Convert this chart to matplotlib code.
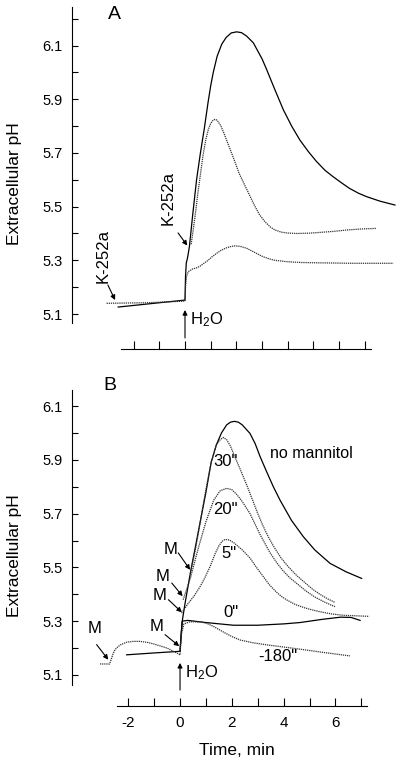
import numpy as np
import matplotlib.pyplot as plt

plt.rcParams['font.family'] = ['Liberation Sans', 'DejaVu Sans']
plt.rcParams['mathtext.default'] = 'regular'

# ---- panel A: time (min) and extracellular pH ----
a_ctrl_t = [-2.6, -1.3, 0.0, 0.02, 0.05, 0.1, 0.17, 0.3, 0.45, 0.6, 0.75, 0.9, 1.0, 1.1, 1.25,
            1.43, 1.6, 1.8, 2.01, 2.2, 2.4, 2.66, 3.0, 3.18, 3.5, 3.83, 4.15, 4.47, 4.8, 5.1,
            5.45, 5.77, 6.1, 6.4, 6.75, 7.07, 7.6, 8.17]
a_ctrl_ph = [5.126, 5.139, 5.152, 5.24, 5.29, 5.31, 5.35, 5.47, 5.6, 5.70, 5.79, 5.89, 5.95, 6.0, 6.06,
             6.105, 6.13, 6.147, 6.151, 6.148, 6.135, 6.11, 6.05, 6.01, 5.935, 5.86, 5.80, 5.748, 5.705, 5.67,
             5.635, 5.611, 5.588, 5.568, 5.55, 5.537, 5.52, 5.506]

a_late_t = [0.24, 0.3, 0.4, 0.5, 0.6, 0.7, 0.8, 0.9, 1.0, 1.1, 1.17, 1.25, 1.4, 1.55, 1.75,
            1.95, 2.1, 2.3, 2.5, 2.7, 2.9, 3.1, 3.31, 3.5, 3.75, 3.96, 4.3, 4.8, 5.25, 5.8,
            6.3, 6.9, 7.46]
a_late_ph = [5.36, 5.40, 5.47, 5.55, 5.62, 5.69, 5.745, 5.785, 5.81, 5.823, 5.825, 5.822, 5.80, 5.765, 5.715,
             5.665, 5.625, 5.585, 5.545, 5.505, 5.47, 5.445, 5.425, 5.413, 5.405, 5.402, 5.400, 5.401, 5.404, 5.408,
             5.413, 5.417, 5.419]

a_pre_t = [-3.05, -1.5, 0.0, 0.02, 0.06, 0.13, 0.3, 0.45, 0.58, 0.75, 0.9, 1.05, 1.23, 1.4, 1.6,
           1.8, 1.95, 2.15, 2.4, 2.7, 2.9, 3.05, 3.3, 3.5, 3.96, 4.5, 5.0, 6.5, 8.1]
a_pre_ph = [5.140, 5.142, 5.148, 5.20, 5.24, 5.258, 5.268, 5.272, 5.278, 5.29, 5.30, 5.313, 5.326, 5.337, 5.346,
            5.352, 5.354, 5.352, 5.345, 5.33, 5.32, 5.313, 5.305, 5.300, 5.295, 5.292, 5.291, 5.289, 5.289]

# ---- panel B ----
b_none_t = [-2.06, -1.0, 0.0, 0.05, 0.1, 0.2, 0.4, 0.6, 0.8, 1.0, 1.2, 1.4, 1.6, 1.8, 1.95,
            2.1, 2.25, 2.4, 2.7, 2.9, 3.09, 3.3, 3.6, 3.86, 4.3, 4.76, 5.2, 5.79, 6.4, 7.01]
b_none_ph = [5.175, 5.182, 5.188, 5.26, 5.31, 5.37, 5.48, 5.58, 5.68, 5.78, 5.89, 5.955, 6.0, 6.03, 6.04,
             6.043, 6.04, 6.03, 5.998, 5.96, 5.912, 5.865, 5.80, 5.75, 5.675, 5.614, 5.565, 5.515, 5.484, 5.459]

b_30_t = [0.4, 0.6, 0.8, 1.0, 1.2, 1.4, 1.55, 1.67, 1.8, 1.95, 2.12, 2.3, 2.45, 2.6, 2.8,
          3.0, 3.2, 3.4, 3.6, 3.9, 4.2, 4.5, 4.8, 5.1, 5.4, 5.7, 5.98]
b_30_ph = [5.48, 5.57, 5.68, 5.79, 5.89, 5.955, 5.975, 5.983, 5.975, 5.95, 5.91, 5.87, 5.835, 5.80, 5.75,
           5.70, 5.655, 5.615, 5.58, 5.535, 5.50, 5.47, 5.445, 5.42, 5.40, 5.383, 5.37]

b_20_t = [0.12, 0.4, 0.7, 1.0, 1.3, 1.55, 1.8, 2.0, 2.2, 2.4, 2.7, 2.9, 3.1, 3.3, 3.47,
          3.75, 4.0, 4.25, 4.51, 4.85, 5.2, 5.6, 5.98]
b_20_ph = [5.38, 5.46, 5.57, 5.67, 5.75, 5.785, 5.794, 5.789, 5.77, 5.745, 5.70, 5.66, 5.62, 5.585, 5.555,
           5.515, 5.485, 5.46, 5.44, 5.413, 5.39, 5.37, 5.354]

b_5_t = [0.06, 0.2, 0.32, 0.55, 0.77, 0.95, 1.16, 1.35, 1.5, 1.62, 1.74, 1.9, 2.1, 2.4, 2.7,
         2.95, 3.22, 3.45, 3.7, 3.9, 4.12, 4.45, 4.8, 5.1, 5.41, 5.85, 6.3, 6.8, 7.3]
b_5_ph = [5.33, 5.35, 5.367, 5.395, 5.428, 5.46, 5.503, 5.55, 5.58, 5.597, 5.604, 5.602, 5.59, 5.565, 5.535,
          5.50, 5.465, 5.435, 5.41, 5.393, 5.379, 5.362, 5.35, 5.342, 5.335, 5.327, 5.322, 5.32, 5.318]

b_0_t = [0.0, 0.08, 0.3, 1.0, 2.06, 3.0, 4.0, 4.63, 5.5, 6.2, 6.6, 6.95]
b_0_ph = [5.188, 5.30, 5.303, 5.295, 5.285, 5.285, 5.29, 5.295, 5.307, 5.315, 5.314, 5.303]

b_m180_t = [-3.09, -2.72, -2.65, -2.58, -2.51, -2.4, -2.3, -2.06, -1.8, -1.54, -1.25, -1.0, -0.5,
            -0.05, 0.0, 0.05, 0.15, 0.39, 0.8, 1.03, 1.3, 1.54, 1.8, 2.0, 2.32, 2.8, 3.35, 4.0,
            4.63, 5.6, 6.56]
b_m180_ph = [5.141, 5.141, 5.16, 5.18, 5.194, 5.205, 5.212, 5.222, 5.225, 5.225, 5.221, 5.215, 5.200,
             5.178, 5.174, 5.25, 5.29, 5.298, 5.297, 5.292, 5.28, 5.267, 5.253, 5.243, 5.23, 5.22, 5.212, 5.204,
             5.196, 5.183, 5.171]

y_major = [5.1, 5.3, 5.5, 5.7, 5.9, 6.1]
x_ticks = [-2, -1, 0, 1, 2, 3, 4, 5, 6, 7]

solid = dict(color='k', lw=0.9)
dotted = dict(color='0.2', lw=0.9, linestyle=(0, (1.0, 0.7)))
arrow = dict(arrowstyle='-|>', color='k', lw=0.8, mutation_scale=7, shrinkA=0, shrinkB=0)

fig = plt.figure(figsize=(4.0, 7.66), dpi=100)
axA = fig.add_axes([0.18, 0.5783, 0.82, 0.4125])
axB = fig.add_axes([0.18, 0.10574, 0.82, 0.38512])


def style_axis(ax, minor_top, drop, xbounds):
    for s in ['top', 'right']:
        ax.spines[s].set_visible(False)
    ax.spines['bottom'].set_position(('outward', drop))
    ax.spines['bottom'].set_bounds(*xbounds)
    for s in ['left', 'bottom']:
        ax.spines[s].set_linewidth(0.8)
    ax.set_yticks(y_major)
    ax.set_yticklabels(['%.1f' % v for v in y_major])
    ax.set_yticks(np.arange(5.2, minor_top + 0.01, 0.2), minor=True)
    ax.tick_params(axis='y', which='both', direction='in', length=4.5, width=0.8,
                   pad=7, labelsize=10.5)
    ax.set_xticks(x_ticks)
    ax.tick_params(axis='x', direction='in', length=6, width=0.8, pad=7, labelsize=11)
    ax.set_ylabel('Extracellular pH', fontsize=12.5)
    ax.yaxis.set_label_coords(-0.198, 0.44)
    ax.yaxis.label.set_va('top')


# panel A
axA.set_xlim(-4.397, 8.366)
axA.set_ylim(5.0665, 6.2434)
style_axis(axA, 6.2, 18.7, (-2.49, 7.24))
axA.set_xticklabels([])
axA.plot(a_ctrl_t, a_ctrl_ph, **solid)
axA.plot(a_late_t, a_late_ph, **dotted)
axA.plot(a_pre_t, a_pre_ph, **dotted)
axA.text(-2.76, 6.214, 'A', fontsize=14, ha='center', va='center')
axA.text(-3.19, 5.316, 'K-252a', fontsize=12, rotation=90, ha='center', va='center')
axA.annotate('', xy=(-2.72, 5.152), xytext=(-3.0, 5.208), arrowprops=arrow)
axA.text(-0.66, 5.532, 'K-252a', fontsize=12, rotation=90, ha='center', va='center')
axA.annotate('', xy=(0.09, 5.355), xytext=(-0.27, 5.402), arrowprops=arrow)
axA.annotate('', xy=(0, 5.115), xytext=(0, 5.011), arrowprops=arrow, annotation_clip=False)
axA.text(0.19, 5.078, 'H$_2$O', fontsize=12, ha='left', va='center')

# panel B
axB.set_xlim(-4.17, 8.49)
axB.set_ylim(5.0628, 6.1595)
style_axis(axB, 6.0, 15.1, (-2.45, 7.23))
axB.set_xticklabels([str(v) if v % 2 == 0 else '' for v in x_ticks])
axB.set_xlabel('Time, min', fontsize=12.5)
axB.xaxis.set_label_coords(0.502, -0.197)
axB.xaxis.label.set_va('top')

axB.plot(b_none_t, b_none_ph, **solid)
axB.plot(b_30_t, b_30_ph, **dotted)
axB.plot(b_20_t, b_20_ph, **dotted)
axB.plot(b_5_t, b_5_ph, **dotted)
axB.plot(b_0_t, b_0_ph, **solid)
axB.plot(b_m180_t, b_m180_ph, **dotted)

axB.text(-2.70, 6.178, 'B', fontsize=14, ha='center', va='center')
axB.text(5.08, 5.922, 'no mannitol', fontsize=11.5, ha='center', va='center')
axB.text(1.76, 5.892, '30"', fontsize=12, ha='center', va='center')
axB.text(1.76, 5.717, '20"', fontsize=12, ha='center', va='center')
axB.text(1.88, 5.55, '5"', fontsize=12, ha='center', va='center')
axB.text(1.95, 5.334, '0"', fontsize=12, ha='center', va='center')
axB.text(3.76, 5.167, '-180"', fontsize=12, ha='center', va='center')

m_text = [(-0.35, 5.567), (-0.68, 5.465), (-0.80, 5.394), (-0.92, 5.28), (-3.28, 5.271)]
m_from = [(-0.07, 5.554), (-0.32, 5.442), (-0.45, 5.38), (-0.58, 5.25), (-3.22, 5.213)]
m_tip = [(0.39, 5.491), (0.10, 5.393), (0.07, 5.333), (-0.03, 5.207), (-2.77, 5.157)]
for txt, start, tip in zip(m_text, m_from, m_tip):
    axB.text(txt[0], txt[1], 'M', fontsize=12, ha='center', va='center')
    axB.annotate('', xy=tip, xytext=start, arrowprops=arrow)

axB.annotate('', xy=(0, 5.145), xytext=(0, 5.044), arrowprops=arrow, annotation_clip=False)
axB.text(0.19, 5.107, 'H$_2$O', fontsize=12, ha='left', va='center')

plt.savefig('out.png', dpi=100)
